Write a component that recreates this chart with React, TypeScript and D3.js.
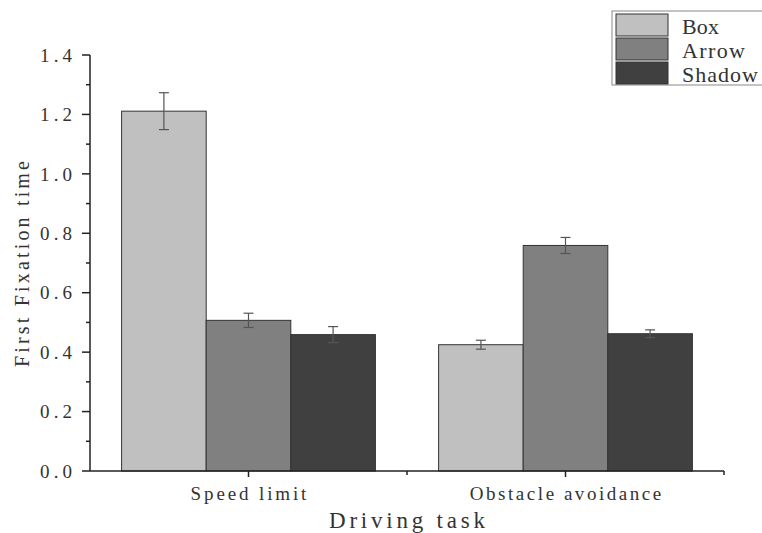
import React from 'react';
import * as d3 from 'd3';

const tasks = ['Speed limit', 'Obstacle avoidance'];
const seriesNames = ['Box', 'Arrow', 'Shadow'];
const seriesColors = ['#c0c0c0', '#808080', '#404040'];
// mean values per series, one per task
const boxValues = [1.211, 0.425];
const arrowValues = [0.507, 0.759];
const shadowValues = [0.459, 0.462];
// error (half height of the error bar)
const boxErrors = [0.062, 0.015];
const arrowErrors = [0.024, 0.027];
const shadowErrors = [0.027, 0.013];
const yTicks = [0, 0.2, 0.4, 0.6, 0.8, 1.0, 1.2, 1.4];

const W = 762;
const H = 533;
const font = '"Liberation Serif", "DejaVu Serif", serif';

// the original uses a fixed-width serif; spread glyphs to that total width
const spread = (width: number) => ({ textLength: width, lengthAdjust: 'spacing' as const });

export default function App() {
  const left = 90, right = 724, top = 55, bottom = 471;

  const x = d3.scaleBand<string>().domain(tasks).range([left, right]);
  const y = d3.scaleLinear().domain([0, 1.4]).range([bottom, top]);
  const barW = 84.6;

  const values = [boxValues, arrowValues, shadowValues];
  const errors = [boxErrors, arrowErrors, shadowErrors];
  const minorTicks = d3.range(0.1, 1.4, 0.2);

  return (
    <svg width={W} height={H} style={{ position: 'absolute', left: 0, top: 0, background: '#fff' }}>
      {/* bars */}
      {tasks.map((t, ti) => {
        const cx = (x(t) as number) + x.bandwidth() / 2;
        return values.map((vals, si) => {
          const bx = cx - barW * 1.5 + si * barW;
          const v = vals[ti];
          const e = errors[si][ti];
          const mx = bx + barW / 2;
          return (
            <g key={t + si}>
              <rect x={bx} y={y(v)} width={barW} height={bottom - y(v)}
                fill={seriesColors[si]} stroke="#333" strokeWidth={1} />
              <line x1={mx} x2={mx} y1={y(v + e)} y2={y(v - e)} stroke="#555" strokeWidth={1.2} />
              <line x1={mx - 5} x2={mx + 5} y1={y(v + e)} y2={y(v + e)} stroke="#555" strokeWidth={1.2} />
              <line x1={mx - 5} x2={mx + 5} y1={y(v - e)} y2={y(v - e)} stroke="#555" strokeWidth={1.2} />
            </g>
          );
        });
      })}

      {/* y axis */}
      <line x1={left} x2={left} y1={top} y2={bottom} stroke="#222" strokeWidth={1.5} />
      {yTicks.map((t) => {
        const s = d3.format('.1f')(t);
        return (
          <g key={t}>
            <line x1={left - 8} x2={left} y1={y(t)} y2={y(t)} stroke="#222" strokeWidth={1.5} />
            <text x={40} y={y(t)} dy="0.35em" fontFamily={font} {...spread(32)}
              fontSize={19} fill="#333">{s}</text>
          </g>
        );
      })}
      {minorTicks.map((t) => (
        <line key={t} x1={left - 4} x2={left} y1={y(t)} y2={y(t)} stroke="#222" strokeWidth={1.5} />
      ))}
      <text transform={`translate(29,${(top + bottom) / 2 + 1}) rotate(-90)`} textAnchor="middle"
        fontFamily={font} fontSize={20} fill="#333" {...spread(206)}>First Fixation time</text>

      {/* x axis */}
      <line x1={left} x2={right} y1={bottom} y2={bottom} stroke="#222" strokeWidth={1.5} />
      {tasks.map((t) => {
        const cx = (x(t) as number) + x.bandwidth() / 2;
        return (
          <g key={t}>
            <line x1={cx} x2={cx} y1={bottom} y2={bottom + 6} stroke="#222" strokeWidth={1.5} />
            <text x={cx} y={500} textAnchor="middle" fontFamily={font} fontSize={19} fill="#333"
              {...spread(t.length * 10.8 - 3)}>{t}</text>
          </g>
        );
      })}
      {tasks.slice(1).map((t) => (
        <line key={t} x1={x(t)} x2={x(t)} y1={bottom} y2={bottom + 4} stroke="#222" strokeWidth={1.5} />
      ))}
      <line x1={right} x2={right} y1={bottom} y2={bottom + 4} stroke="#222" strokeWidth={1.5} />
      <text x={(left + right) / 2} y={528} textAnchor="middle" fontFamily={font} fontSize={23} fill="#333"
        {...spread(156)}>Driving task</text>

      {/* legend */}
      <rect x={612} y={11} width={160} height={74} fill="#fff" stroke="#888" strokeWidth={1} />
      {seriesNames.map((n, i) => (
        <g key={n}>
          <rect x={616} y={14 + i * 24} width={52} height={22} fill={seriesColors[i]} stroke="#333" strokeWidth={1} />
          <text x={682} y={26 + i * 24} dy="0.35em" fontFamily={font} fontSize={22} fill="#333"
            {...spread(n.length * 13 - 2)}>{n}</text>
        </g>
      ))}
    </svg>
  );
}
